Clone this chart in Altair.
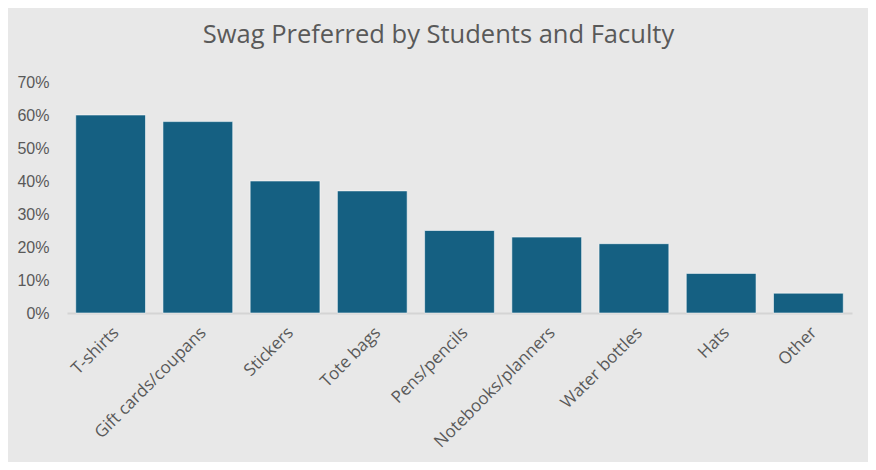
import altair as alt
import pandas as pd

categories = ["T-shirts", "Gift cards/coupans", "Stickers", "Tote bags", "Pens/pencils",
              "Notebooks/planners", "Water bottles", "Hats", "Other"]
values = [0.60, 0.58, 0.40, 0.37, 0.25, 0.23, 0.21, 0.12, 0.06]
y_ticks = [0, 0.1, 0.2, 0.3, 0.4, 0.5, 0.6, 0.7]

df = pd.DataFrame({"item": categories, "share": values})

chart = alt.Chart(df).mark_bar(
    color="#156082", stroke="#ffffff", strokeOpacity=0.55, strokeWidth=1
).encode(
    x=alt.X("item:N", sort=categories, title=None,
            scale=alt.Scale(paddingInner=0.2, paddingOuter=0.1),
            axis=alt.Axis(labelAngle=-45, labelFont="Open Sans", labelFontSize=17,
                          labelColor="#595959", ticks=False, domainColor="#d4d4d4",
                          domainWidth=2, labelPadding=11)),
    y=alt.Y("share:Q", title=None,
            scale=alt.Scale(domain=[0, 0.7], nice=False),
            axis=alt.Axis(values=y_ticks, format=".0%", grid=False, domain=False, ticks=False,
                          labelFont="Liberation Sans", labelFontSize=16,
                          labelColor="#595959", labelPadding=18)),
).properties(
    width=785,
    height=231,
    background="#e8e8e8",
    padding={"left": 59, "top": 74, "right": 16, "bottom": 149},
    autosize=alt.AutoSizeParams(type="none"),
    title=alt.TitleParams("Swag Preferred by Students and Faculty", font="Open Sans",
                          fontSize=25.5, fontWeight="normal", color="#595959",
                          anchor="middle", dx=-21, offset=26),
).configure_view(stroke=None)

chart.save("out.html", embed_options={"renderer": "svg", "actions": False})
